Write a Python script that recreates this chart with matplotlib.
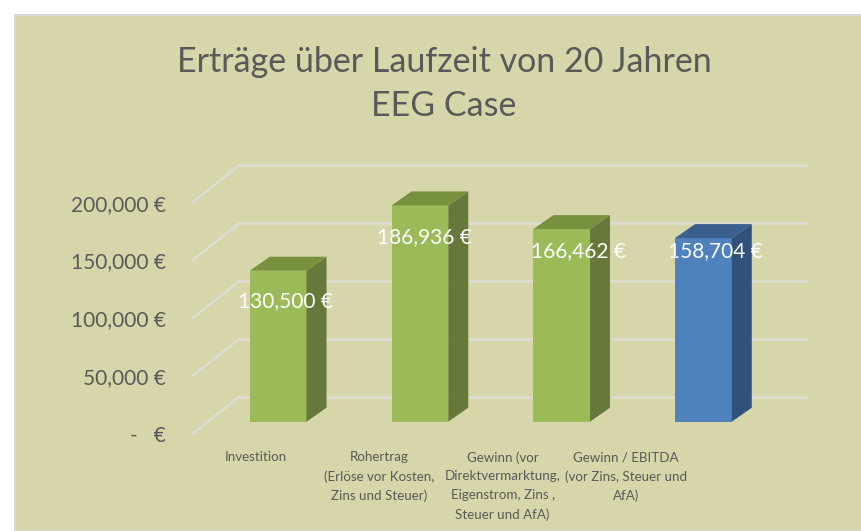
import matplotlib
matplotlib.use("Agg")
import matplotlib.pyplot as plt
from matplotlib.patches import Rectangle, Polygon
from matplotlib.transforms import offset_copy, IdentityTransform
from matplotlib.lines import Line2D

plt.rcParams['font.family'] = ['Lato', 'DejaVu Sans']

# Daten
kategorien = ["Investition",
              "Rohertrag\n(Erlöse vor Kosten,\nZins und Steuer)",
              "Gewinn (vor\nDirektvermarktung,\nEigenstrom, Zins ,\nSteuer und AfA)",
              "Gewinn / EBITDA\n(vor Zins, Steuer und\nAfA)"]
werte = [130500, 186936, 166462, 158704]
y_ticks = [0, 50000, 100000, 150000, 200000]
y_tick_labels = ["-   €", "50,000 €", "100,000 €", "150,000 €", "200,000 €"]

# Farben (Vorderseite, Seite, Deckel)
gruen = ("#9BBB59", "#66793A", "#77913F")
blau = ("#4F81BD", "#32517A", "#3B6090")
farben = [gruen, gruen, gruen, blau]

grau = "#595959"
hintergrund = "#D6D6AA"
gitter = "#DDDDD4"

W, H = 862, 531
fig = plt.figure(figsize=(W / 100, H / 100), dpi=100)
fig.patch.set_facecolor("white")
fig.add_artist(Rectangle((15 / W, 0), 1, (H - 15) / H, transform=fig.transFigure,
                         facecolor=hintergrund, edgecolor="#D9D9D9", lw=1.5, zorder=-1))

# Achse = Ebene der Balkenvorderseiten
ax = fig.add_axes([207.3 / W, 109.3 / H, 567 / W, 231.4 / H])
ax.set_xlim(-0.5, 3.5)
ax.set_ylim(0, 200000)
ax.set_facecolor("none")
ax.axis("off")

# 3D Versatz in Pixeln
tiefe = (20, 14)       # Balkentiefe
wand = (32, 25)        # Rueckwand
vorne = (-15, -12.3)   # Ebene der Achsenbeschriftung

def px(x, y):
    return ax.transData.transform((x, y))

pix = IdentityTransform()

# Gitternetz auf Rueckwand + Linien der Seitenwand
wand_trans = offset_copy(ax.transData, fig, x=wand[0], y=wand[1], units="dots")
for t in y_ticks:
    ax.plot([-0.5, 3.51], [t, t], color=gitter, lw=1.8, transform=wand_trans,
            solid_capstyle="butt", zorder=1, clip_on=False)
    x0, y0 = px(-0.5, t)
    ax.add_line(Line2D([x0 + vorne[0], x0 + wand[0]], [y0 + vorne[1], y0 + wand[1]],
                       transform=pix, color=gitter, lw=1.8, zorder=1, clip_on=False))

# Balken
breite = 0.4
for i, (w, f) in enumerate(zip(werte, farben)):
    ax.bar(i, w, width=breite, color=f[0], zorder=3)
    xl, yb = px(i - breite / 2, 0)
    xr, yt = px(i + breite / 2, w)
    dx, dy = tiefe
    seite = [(xr, yb), (xr + dx, yb + dy), (xr + dx, yt + dy), (xr, yt)]
    deckel = [(xl, yt), (xr, yt), (xr + dx, yt + dy), (xl + dx, yt + dy)]
    ax.add_patch(Polygon(seite, closed=True, transform=pix, facecolor=f[1],
                         edgecolor="none", zorder=3, clip_on=False))
    ax.add_patch(Polygon(deckel, closed=True, transform=pix, facecolor=f[2],
                         edgecolor="none", zorder=3, clip_on=False))

# Datenbeschriftungen
label_off = [(7, -30), (5, -32), (17, -22), (12, -13)]
for i, w in enumerate(werte):
    tr = offset_copy(ax.transData, fig, x=label_off[i][0], y=label_off[i][1], units="dots")
    ax.text(i, w, f"{w:,} €", transform=tr, ha="center", va="center",
            color="white", fontsize=15, zorder=5, clip_on=False)

# Y-Achsenbeschriftung
ytr = offset_copy(ax.transData, fig, x=vorne[0] - 26, y=vorne[1] - 2, units="dots")
for t, lab in zip(y_ticks, y_tick_labels):
    ax.text(-0.5, t, lab, transform=ytr, ha="right", va="center", color=grau,
            fontsize=15)

# Kategorien
for i, k in enumerate(kategorien):
    fig.text((256 + 123.3 * i) / W, 1 - 451 / H, k, ha="center", va="top",
             color=grau, fontsize=9.6, linespacing=1.68)

# Titel
fig.text(444 / W, 1 - 84 / H, "Erträge über Laufzeit von 20 Jahren\nEEG Case",
         ha="center", va="center", color=grau, fontsize=24.5, linespacing=1.5)

fig.savefig("out.png", dpi=100)
